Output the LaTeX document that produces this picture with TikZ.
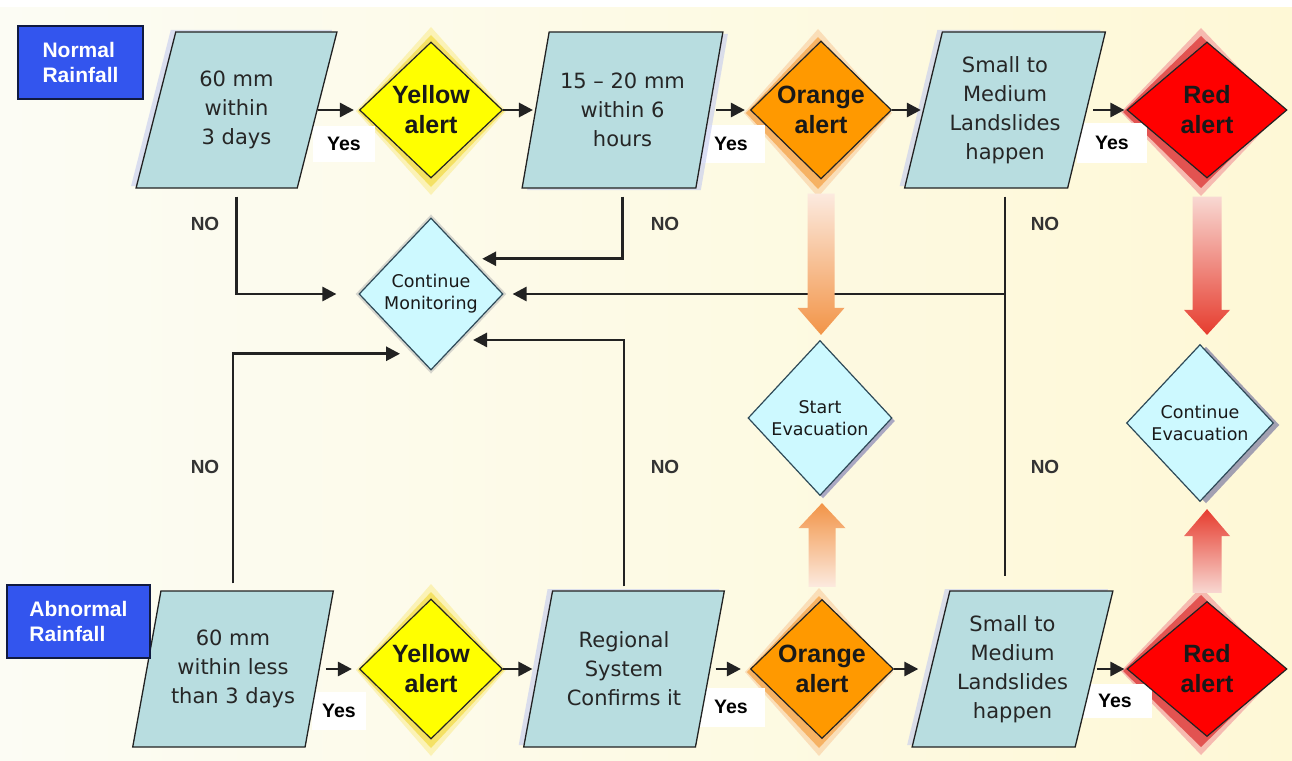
\documentclass[tikz,border=0pt]{standalone}
\usepackage{fontspec}
\setmainfont{DejaVu Sans}
\newfontfamily\arialf{Liberation Sans}
\usetikzlibrary{shapes.geometric,arrows.meta,calc,shadows}
\pgfdeclarelayer{glow}
\pgfsetlayers{glow,main}

\definecolor{parafill}{HTML}{B8DDE0}
\definecolor{lightdia}{HTML}{CDF9FF}
\definecolor{lineclr}{HTML}{222222}
\definecolor{diaedge}{HTML}{2E4A58}
\definecolor{bluebox}{HTML}{3355EE}
\definecolor{blueborder}{HTML}{101A40}
\definecolor{yel}{HTML}{FFFF00}
\definecolor{ora}{HTML}{FF9900}
\definecolor{redc}{HTML}{FF0000}
\definecolor{bgl}{HTML}{FCFCF4}
\definecolor{bgr}{HTML}{FEF8D6}
\definecolor{notext}{HTML}{333333}
\definecolor{shadowlav}{HTML}{C4CBEF}
\definecolor{oarrowtop}{HTML}{FCEADF}
\definecolor{oarrowbot}{HTML}{F29447}
\definecolor{rarrowtop}{HTML}{F8D8D2}
\definecolor{rarrowbot}{HTML}{E63C2E}
\definecolor{yglowout}{HTML}{FBEFA0}
\definecolor{yglowin}{HTML}{F3DD50}
\definecolor{oglowout}{HTML}{FAD3A8}
\definecolor{oglowin}{HTML}{F5A850}
\definecolor{rglowout}{HTML}{F4A0A0}
\definecolor{rglowin}{HTML}{DD3A3A}

\tikzset{
  para/.style={trapezium, trapezium left angle=72.7, trapezium right angle=107.3,
    trapezium stretches=true, minimum width=201pt, minimum height=156pt, inner sep=0pt,
    draw=lineclr, line width=1.3pt, fill=parafill, align=center,
    font=\fontsize{21}{29}\selectfont, text=black!85},
  alertdia/.style={diamond, draw=lineclr, line width=1.2pt, inner sep=0pt, align=center,
    font=\arialf\bfseries\fontsize{25}{30}\selectfont, text=black!90},
  softdia/.style={diamond, draw=diaedge, line width=1.2pt, fill=lightdia, inner sep=0pt,
    align=center, font=\fontsize{17.5}{22}\selectfont, text=black!90},
  labelbox/.style={draw=blueborder, line width=1.8pt, fill=bluebox, text=white, align=left,
    font=\arialf\bfseries\fontsize{21}{25}\selectfont, inner sep=0pt},
  yeslab/.style={fill=white, font=\arialf\bfseries\fontsize{19.5}{20}\selectfont, inner sep=0pt},
  nolab/.style={font=\arialf\bfseries\fontsize{19}{20}\selectfont, text=notext},
  flow/.style={draw=lineclr, line width=2.8pt, -{Triangle[length=14pt,width=14pt]}},
  plainline/.style={draw=lineclr, line width=2.8pt},
  lavleft/.style={drop shadow={shadow xshift=-5pt, shadow yshift=2pt, fill=shadowlav, opacity=.6}},
  lavright/.style={drop shadow={shadow xshift=5pt, shadow yshift=-2pt, fill=shadowlav, opacity=.6}},
}

% glow diamond: node, colour, half width, half height, dx, dy
\newcommand\glowdia[6]{%
  \fill[#2] ($(#1.center)+(#5,#6)+(0,-#4)$) -- ($(#1.center)+(#5,#6)+(#3,0)$)
    -- ($(#1.center)+(#5,#6)+(0,#4)$) -- ($(#1.center)+(#5,#6)+(-#3,0)$) -- cycle;}

\begin{document}
\begin{tikzpicture}[x=1pt,y=-1pt]
\useasboundingbox (0,0) rectangle (1292,760);
\begin{pgfonlayer}{glow}
  \fill[white] (0,0) rectangle (1292,760);
  \shade[left color=bgl, right color=bgr] (0,8) rectangle (1292,760);
\end{pgfonlayer}

% Yes labels (behind shapes)
\node[yeslab, minimum width=62pt, minimum height=36pt] (yes1) at (344,144) {Yes};
\node[yeslab, minimum width=68pt, minimum height=38pt] (yes2) at (731,144) {Yes};
\node[yeslab, minimum width=70pt, minimum height=40pt] (yes3) at (1112,143) {Yes};
\node[yeslab, minimum width=54pt, minimum height=38pt] (yes4) at (339,711) {Yes};
\node[yeslab, minimum width=68pt, minimum height=39pt] (yes5) at (731,707) {Yes};
\node[yeslab, minimum width=74pt, minimum height=34pt] (yes6) at (1115,701) {Yes};

% Parallelograms
\node[para, lavleft]  (p1) at (236.5,110) {60 mm\\within\\3 days};
\node[para, lavright] (p2) at (622.5,110) {15 – 20 mm\\within 6\\hours};
\node[para, lavleft]  (p3) at (1005,110) {Small to\\Medium\\Landslides\\happen};
\node[para]           (p4) at (233,669) {60 mm\\within less\\than 3 days};
\node[para, lavleft]  (p5) at (624,669) {Regional\\System\\Confirms it};
\node[para, lavleft]  (p6) at (1012.5,669) {Small to\\Medium\\Landslides\\happen};

% Alert diamonds
\node[alertdia, fill=yel, minimum width=143pt, minimum height=136pt] (y1) at (431,110) {Yellow\\alert};
\node[alertdia, fill=ora, minimum width=141pt, minimum height=138pt] (o1) at (821,110) {Orange\\alert};
\node[alertdia, fill=redc, minimum width=160pt, minimum height=136pt] (r1) at (1207,110) {Red\\alert};
\node[alertdia, fill=yel, minimum width=143pt, minimum height=140pt] (y2) at (431,669) {Yellow\\alert};
\node[alertdia, fill=ora, minimum width=143pt, minimum height=139pt] (o2) at (822,669) {Orange\\alert};
\node[alertdia, fill=redc, minimum width=160pt, minimum height=135pt] (r2) at (1207,669) {Red\\alert};

% Soft diamonds
\node[softdia, minimum width=144pt, minimum height=152pt,
  drop shadow={shadow xshift=0pt, shadow yshift=0pt, shadow scale=1.05, fill=gray!60, opacity=.5}]
  (cm) at (431,294) {Continue\\Monitoring};
\node[softdia, minimum width=144pt, minimum height=155pt,
  drop shadow={shadow xshift=3pt, shadow yshift=-3pt, fill=gray!70!blue, opacity=.5}]
  (se) at (820,418) {Start\\Evacuation};
\node[softdia, minimum width=147pt, minimum height=157pt,
  drop shadow={shadow xshift=6pt, shadow yshift=-2pt, fill=gray!80!blue, opacity=.6}]
  (ce) at (1200,423) {Continue\\Evacuation};

% Blue labels
\node[labelbox, minimum width=125pt, minimum height=73pt] (nr) at (80.5,62.5) {Normal\\Rainfall};
\node[labelbox, minimum width=143pt, minimum height=73pt] (ar) at (78.5,621.5) {Abnormal\\Rainfall};

% NO labels
\node[nolab] (no1) at (205,224) {NO};
\node[nolab] (no2) at (665,224) {NO};
\node[nolab] (no3) at (1045,224) {NO};
\node[nolab] (no4) at (205,467) {NO};
\node[nolab] (no5) at (665,467) {NO};
\node[nolab] (no6) at (1045,467) {NO};

% Glows
\begin{pgfonlayer}{glow}
  \glowdia{y1}{yglowout, opacity=.7}{75}{84}{0}{1}
  \glowdia{y1}{yglowin, opacity=.8}{73}{76}{0}{1}
  \glowdia{y2}{yglowout, opacity=.7}{75}{86}{0}{1}
  \glowdia{y2}{yglowin, opacity=.8}{73}{78}{0}{1}
  \glowdia{o1}{oglowout, opacity=.7}{74}{84}{-3}{3}
  \glowdia{o1}{oglowin, opacity=.8}{72}{76}{-3}{3}
  \glowdia{o2}{oglowout, opacity=.7}{74}{84}{-3}{3}
  \glowdia{o2}{oglowin, opacity=.8}{72}{76}{-3}{3}
  \glowdia{r1}{rglowout, opacity=.7}{80}{84}{-6}{2}
  \glowdia{r1}{rglowin, opacity=.8}{78}{76}{-6}{2}
  \glowdia{r2}{rglowout, opacity=.7}{80}{84}{-6}{2}
  \glowdia{r2}{rglowin, opacity=.8}{78}{76}{-6}{2}
\end{pgfonlayer}

% Horizontal flow (Yes) arrows, top row
\draw[flow, shorten >=5pt] (p1.right side) -- (y1.west);
\draw[flow, shorten >=2pt] (y1.east) -- (p2.left side);
\draw[flow, shorten <=6pt, shorten >=5pt] (p2.right side) -- (o1.west);
\draw[flow, shorten >=2pt] (o1.east) -- (p3.left side);
\draw[flow, shorten <=6pt, shorten >=2pt] (p3.right side) -- (r1.west);
% bottom row
\draw[flow, shorten <=6pt, shorten >=7pt] (p4.right side) -- (y2.west);
\draw[flow, shorten >=5pt] (y2.east) -- (p5.left side);
\draw[flow, shorten <=5pt, shorten >=9pt] (p5.right side) -- (o2.west);
\draw[flow, shorten >=12pt] (o2.east) -- (p6.left side);
\draw[flow, shorten <=2pt, shorten >=2pt] (p6.right side) -- (r2.west);

% NO connectors to Continue Monitoring
\draw[flow, shorten <=8pt, shorten >=22pt] (p1.south) |- (cm.west);
\draw[flow, shorten <=8pt, shorten >=12pt] (p2.south) |- ($(cm.north)!0.54!(cm.east)$);
\draw[plainline, shorten <=8pt, shorten >=14pt] (p3.south) -- (p3.south |- p6.north);
\draw[flow, shorten >=9pt] (p3.south |- cm.east) -- (cm.east);
\draw[flow, shorten <=7pt, shorten >=15pt] (p4.north) |- ($(cm.west)!0.78!(cm.south)$);
\draw[flow, shorten <=4pt, shorten >=13pt] (p5.north) |- ($(cm.east)!0.6!(cm.south)$);

% Big gradient arrows: orange
\shade[top color=oarrowtop, bottom color=oarrowbot]
  ($(o1.south)+(-13.5,14)$) -- ($(o1.south)+(13.5,14)$)
  -- ($(o1.south |- se.north)+(13.5,-32)$) -- ($(o1.south |- se.north)+(23.5,-32)$)
  -- ($(o1.south |- se.north)+(0,-5)$)
  -- ($(o1.south |- se.north)+(-23.5,-32)$) -- ($(o1.south |- se.north)+(-13.5,-32)$) -- cycle;
\shade[top color=oarrowbot, bottom color=oarrowtop]
  ($(o2.north |- se.south)+(0,7)$) -- ($(o2.north |- se.south)+(23.5,32)$)
  -- ($(o2.north |- se.south)+(13.5,32)$) -- ($(o2.north)+(13.5,-12)$)
  -- ($(o2.north)+(-13.5,-12)$) -- ($(o2.north |- se.south)+(-13.5,32)$)
  -- ($(o2.north |- se.south)+(-23.5,32)$) -- cycle;
% red
\shade[top color=rarrowtop, bottom color=rarrowbot]
  ($(r1.south)+(-14.5,18)$) -- ($(r1.south)+(14.5,18)$)
  -- ($(r1.south |- ce.north)+(14.5,-34)$) -- ($(r1.south |- ce.north)+(23,-34)$)
  -- ($(r1.south |- ce.north)+(0,-9)$)
  -- ($(r1.south |- ce.north)+(-23,-34)$) -- ($(r1.south |- ce.north)+(-14.5,-34)$) -- cycle;
\shade[top color=rarrowbot, bottom color=rarrowtop]
  ($(r2.north |- ce.south)+(0,7)$) -- ($(r2.north |- ce.south)+(23,34)$)
  -- ($(r2.north |- ce.south)+(14.5,34)$) -- ($(r2.north)+(14.5,-8)$)
  -- ($(r2.north)+(-14.5,-8)$) -- ($(r2.north |- ce.south)+(-14.5,34)$)
  -- ($(r2.north |- ce.south)+(-23,34)$) -- cycle;
\end{tikzpicture}
\end{document}
